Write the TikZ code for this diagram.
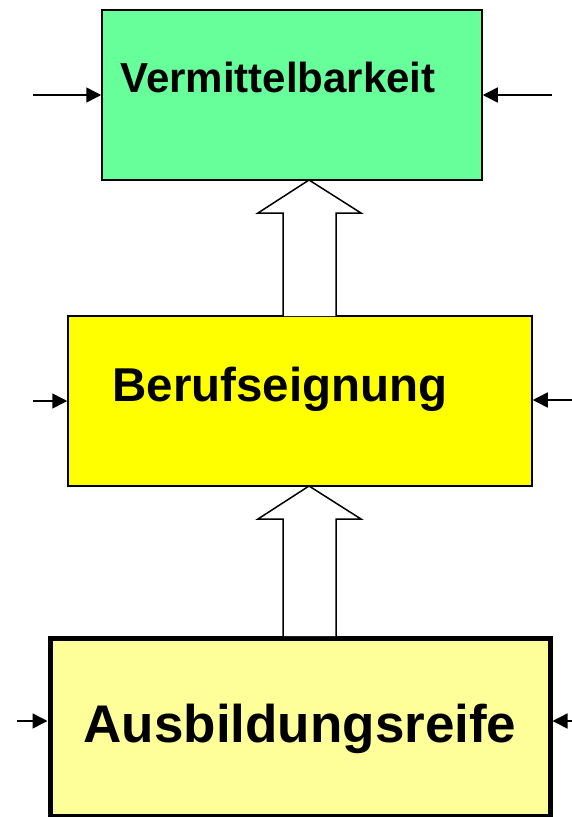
\documentclass[tikz,border=0pt]{standalone}
\usepackage{fontspec}
\setmainfont{Liberation Sans}
\usetikzlibrary{arrows.meta}
\definecolor{boxgreen}{RGB}{102,255,153}
\definecolor{boxyellow}{RGB}{255,255,0}
\definecolor{boxpale}{RGB}{255,255,153}
\tikzset{
  box/.style={draw, inner sep=0pt},
  title/.style={anchor=base, inner sep=0pt, font=\bfseries},
  inarrow/.style={line width=1.5pt, -{Triangle[length=15pt, width=15pt]}},
  blockarrow/.style={draw, line width=1.5pt, line join=miter, fill=white}
}
\begin{document}
\begin{tikzpicture}[x=1pt, y=-1pt]
  \useasboundingbox (0,0) rectangle (572,817);

  % Kästen
  \node[box, line width=1.5pt, fill=boxgreen, minimum width=380pt, minimum height=170pt] (verm) at (292,95) {};
  \node[box, line width=1.5pt, fill=boxyellow, minimum width=464pt, minimum height=170pt] (beruf) at (300,401) {};
  \node[box, line width=5pt, fill=boxpale, minimum width=500pt, minimum height=178pt] (ausb) at (300,727) {};

  % Beschriftungen
  \node[title, font=\bfseries\fontsize{42}{50}\selectfont] (vermtext) at (278,92) {Vermittelbarkeit};
  \node[title, font=\bfseries\fontsize{47.5}{56}\selectfont] (beruftext) at (280,401) {Berufseignung};
  \node[title, font=\bfseries\fontsize{53}{62}\selectfont] (ausbtext) at (300,742) {Ausbildungsreife};

  % Blockpfeile
  \draw[blockarrow] (283,316) -- (283,213) -- (258,213) -- (309,180) -- (361,213) -- (336,213) -- (336,316);
  \draw[blockarrow] (283,636) -- (283,519) -- (258,519) -- (309,486) -- (361,519) -- (336,519) -- (336,636);

  % Einflüsse von außen
  \coordinate (vl) at (33,95);
  \coordinate (vr) at (552,95);
  \coordinate (bl) at (33,401);
  \coordinate (br) at (572,400);
  \coordinate (al) at (17,721);
  \coordinate (ar) at (572,721);
  \draw[inarrow] (vl) -- (verm.west |- vl);
  \draw[inarrow] (vr) -- (verm.east |- vr);
  \draw[inarrow] (bl) -- (beruf.west |- bl);
  \draw[inarrow] (br) -- (beruf.east |- br);
  \draw[inarrow] (al) -- (ausb.west |- al);
  \draw[inarrow] (ar) -- (ausb.east |- ar);
\end{tikzpicture}
\end{document}
